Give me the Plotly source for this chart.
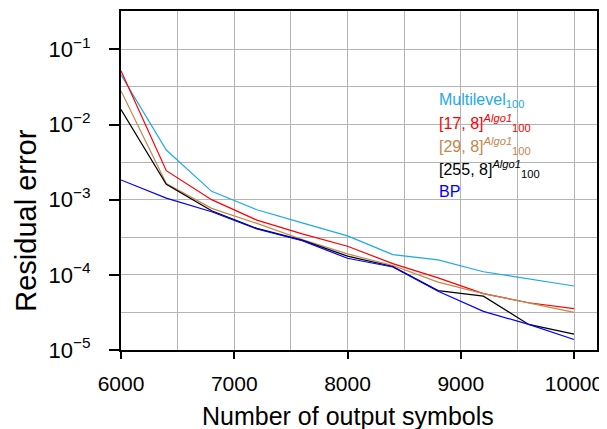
import plotly.graph_objects as go

x_symbols = [6000, 6400, 6800, 7200, 7600, 8000, 8400, 8800, 9200, 9600, 10000]

multilevel = [0.0458, 0.00457, 0.00129, 0.000735, 0.00049, 0.00033, 0.000186, 0.000158, 0.00011, 0.000089, 0.000071]
algo17 = [0.0518, 0.00243, 0.00100, 0.000534, 0.000351, 0.00024, 0.000141, 0.0000912, 0.0000563, 0.0000425, 0.0000355]
algo29 = [0.028, 0.00164, 0.000766, 0.000484, 0.000295, 0.00019, 0.000133, 0.000080, 0.0000563, 0.0000418, 0.0000316]
algo255 = [0.0158, 0.00160, 0.000712, 0.000415, 0.00029, 0.000177, 0.000129, 0.0000616, 0.000052, 0.0000219, 0.0000163]
bp = [0.00183, 0.00105, 0.00069, 0.000407, 0.000285, 0.000166, 0.000127, 0.0000605, 0.0000326, 0.0000219, 0.0000138]

series_names = ["Multilevel<sub>100</sub>",
                "[17, 8]<sup><i>Algo1</i></sup><sub>100</sub>",
                "[29, 8]<sup><i>Algo1</i></sup><sub>100</sub>",
                "[255, 8]<sup><i>Algo1</i></sup><sub>100</sub>",
                "BP"]
series_values = [multilevel, algo17, algo29, algo255, bp]
series_colors = ["#1ea9e6", "#ff0000", "#c4864c", "#000000", "#0000ff"]

y_tickvals = [1e-5, 1e-4, 1e-3, 1e-2, 1e-1]
y_ticktext = ["10<sup>−5</sup>", "10<sup>−4</sup>", "10<sup>−3</sup>", "10<sup>−2</sup>", "10<sup>−1</sup>"]
y_minorvals = [10 ** -4.5, 10 ** -3.5, 10 ** -2.5, 10 ** -1.5]
x_tickvals = [6000, 7000, 8000, 9000, 10000]
x_ticktext = ["6000", "7000", "8000", "9000", "10000"]

FONT = "Liberation Sans"

# plot area in screen pixels (page body adds an 8px offset)
PL, PR, PT, PB = 121, 597, 9, 350
OFF = 8
W, H = 607 - OFF, 429 - OFF


def px(x):
    return (x - PL) / (PR - PL)


def py(y):
    return (PB - y) / (PB - PT)


fig = go.Figure()
for name, vals, col in zip(series_names, series_values, series_colors):
    fig.add_trace(go.Scatter(x=x_symbols, y=vals, mode="lines", name=name,
                             line=dict(color=col, width=1.2), showlegend=False))

legend_y = [99, 122, 145, 168, 191]
for name, col, yy in zip(series_names, series_colors, legend_y):
    fig.add_annotation(text=name, xref="paper", yref="paper",
                       x=px(437), y=py(yy),
                       xanchor="left", yanchor="middle", showarrow=False,
                       font=dict(family=FONT, size=16, color=col))

fig.add_annotation(text="Number of output symbols", xref="paper", yref="paper",
                   x=px(348), y=py(416),
                   xanchor="center", yanchor="middle", showarrow=False,
                   font=dict(family=FONT, size=25, color="black"))
fig.add_annotation(text="Residual error", xref="paper", yref="paper",
                   x=px(26), y=py(220),
                   xanchor="center", yanchor="middle", showarrow=False, textangle=-90,
                   font=dict(family=FONT, size=29, color="black"))

fig.update_layout(
    width=W, height=H,
    margin=dict(l=PL - OFF, r=W + OFF - PR, t=PT - OFF, b=H + OFF - PB),
    plot_bgcolor="white", paper_bgcolor="white",
    font=dict(family=FONT, size=20, color="black"),
    xaxis=dict(range=[6000, 10203], tickvals=x_tickvals, ticktext=x_ticktext,
               ticks="outside", ticklen=7, ticklabelstandoff=7,
               tickwidth=2, tickcolor="black", showline=True, linecolor="black",
               linewidth=2, mirror=True, showgrid=True, gridcolor="#b4b4b4", gridwidth=1,
               minor=dict(dtick=500, showgrid=True, gridcolor="#b4b4b4", gridwidth=1),
               zeroline=False, tickfont=dict(size=21)),
    yaxis=dict(type="log", range=[-5, -0.49], tickvals=y_tickvals, ticktext=y_ticktext,
               ticks="outside", ticklen=10, tickwidth=2, tickcolor="black", ticklabelstandoff=14,
               showline=True, linecolor="black", linewidth=2, mirror=True,
               showgrid=True, gridcolor="#b4b4b4", gridwidth=1,
               minor=dict(tickvals=y_minorvals, showgrid=True, gridcolor="#b4b4b4", gridwidth=1),
               zeroline=False, tickfont=dict(size=22)),
)

fig.write_html("out.html")
